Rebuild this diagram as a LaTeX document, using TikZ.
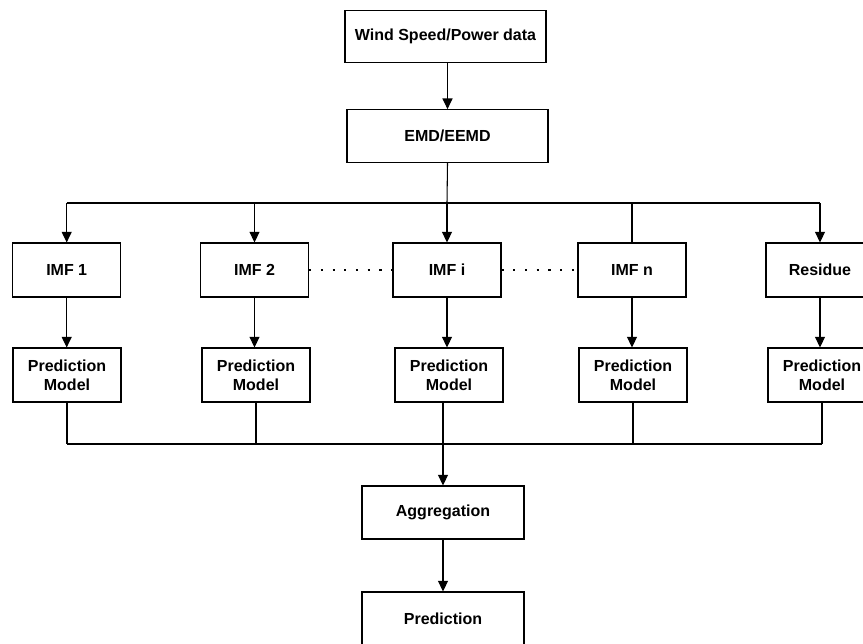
\documentclass[tikz,border=0pt]{standalone}
\usepackage{fontspec}
\setmainfont{Liberation Sans}
\usetikzlibrary{arrows.meta}
\begin{document}
\begin{tikzpicture}[x=0.75pt,y=-0.75pt,
  box/.style={draw,line width=0.8pt,inner sep=0pt,align=center,
    font=\fontsize{12}{14.5}\selectfont\bfseries},
  smallbox/.style={box,minimum width=81pt,minimum height=40.5pt},
  widebox/.style={box,minimum width=150.75pt,minimum height=39.5pt},
  midbox/.style={box,minimum width=121.5pt,minimum height=39.75pt},
  link/.style={line width=0.8pt},
  arr/.style={link,-{Triangle[width=7.5pt,length=8pt]}},
  dots/.style={line width=1.6pt,dash pattern=on 1.6pt off 7.2pt}]
\useasboundingbox (0,0) rectangle (863,643);
\clip (0,0) rectangle (863,643);
\node[widebox] (top) at (445.5,36.5) {Wind Speed/Power data};
\node[widebox] (emd) at (447.5,136) {EMD/EEMD};
\node[smallbox] (imf1) at (66.7,270) {IMF 1};
\node[smallbox] (imf2) at (254.5,270) {IMF 2};
\node[smallbox] (imfi) at (447,270) {IMF i};
\node[smallbox] (imfn) at (632,270) {IMF n};
\node[smallbox] (res) at (820,270) {Residue};
\node[smallbox] (pm1) at (67,375) {Prediction\\Model};
\node[smallbox] (pm2) at (256,375) {Prediction\\Model};
\node[smallbox] (pmi) at (449,375) {Prediction\\Model};
\node[smallbox] (pmn) at (633,375) {Prediction\\Model};
\node[smallbox] (pmr) at (822,375) {Prediction\\Model};
\node[midbox] (agg) at (443,512.5) {Aggregation};
\node[midbox] (pred) at (443,618.5) {Prediction};
\coordinate (busT) at (447,203);
\coordinate (busB) at (443,444);
% top connectors
\draw[arr] (top.south -| emd) -- (emd.north);
\draw[link] (emd.south) -- (busT);
\draw[arr] (busT) -- (imfi.north);
\draw[link] (busT -| imf1) -- (busT -| res);
\draw[arr] (busT -| imf1) -- (imf1.north);
\draw[arr] (busT -| imf2) -- (imf2.north);
\draw[link] (busT -| imfn) -- (imfn.north);
\draw[arr] (busT -| res) -- (res.north);
% imf to models
\draw[arr] (imf1.south) -- (imf1.south |- pm1.north);
\draw[arr] (imf2.south) -- (imf2.south |- pm2.north);
\draw[arr] (imfi.south) -- (imfi.south |- pmi.north);
\draw[arr] (imfn.south) -- (imfn.south |- pmn.north);
\draw[arr] (res.south) -- (res.south |- pmr.north);
% dotted
\draw[dots] (imf2.east) -- (imfi.west);
\draw[dots] (imfi.east) -- (imfn.west);
% bottom bus
\draw[link] (pm1.south) -- (busB -| pm1);
\draw[link] (pm2.south) -- (busB -| pm2);
\draw[link] (pmi.south -| busB) -- (busB);
\draw[link] (pmn.south) -- (busB -| pmn);
\draw[link] (pmr.south) -- (busB -| pmr);
\draw[link] (busB -| pm1) -- (busB -| pmr);
\draw[arr] (busB) -- (agg.north);
\draw[arr] (agg.south) -- (pred.north);
\end{tikzpicture}
\end{document}
